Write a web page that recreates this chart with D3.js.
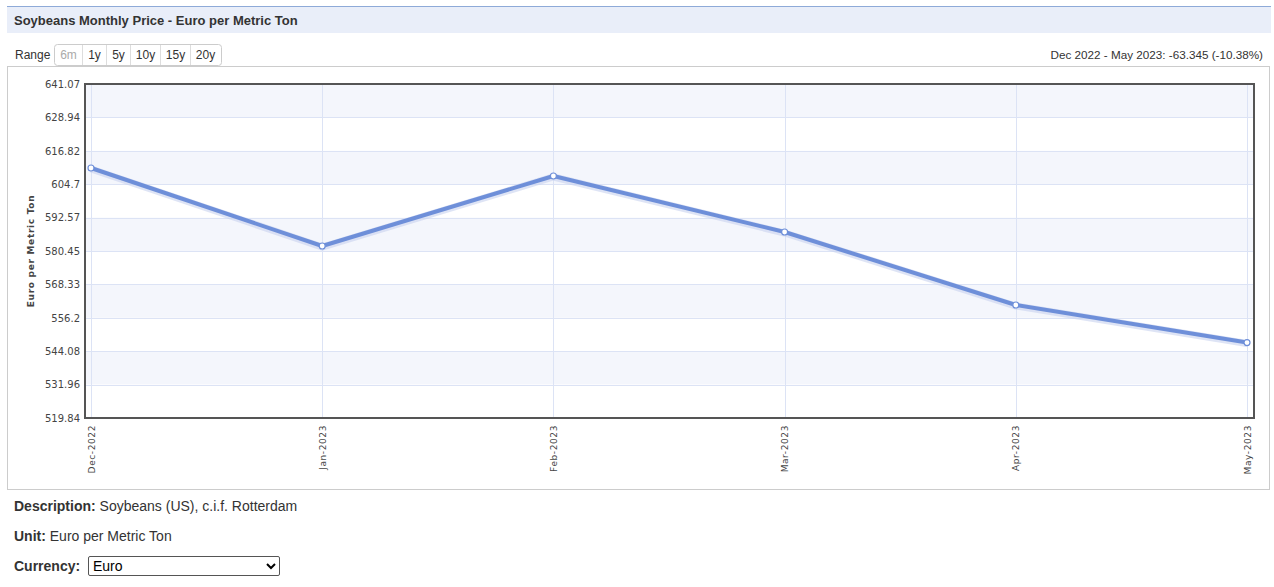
<!DOCTYPE html>
<html><head><meta charset="utf-8">
<script src="https://cdn.jsdelivr.net/npm/d3@7"></script>
<style>
body{margin:0;background:#fff;font-family:"Liberation Sans",Arial,sans-serif;color:#333;}
#wrap{position:relative;width:1274px;height:587px;overflow:hidden;}
.sel{position:absolute;left:88px;top:556px;width:192px;height:20px;font-family:"Liberation Sans",Arial,sans-serif;font-size:14px;border:1px solid #555;border-radius:2px;box-sizing:border-box;background:#fff;}
</style></head>
<body><div id="wrap"><svg id="chart" width="1274" height="587"></svg>
<select class="sel"><option>Euro</option></select></div>
<script>
const months = ["Dec-2022","Jan-2023","Feb-2023","Mar-2023","Apr-2023","May-2023"];
const prices = [610.575, 582.27, 607.68, 587.35, 560.86, 547.23];
const yTicks = [519.84, 531.96, 544.08, 556.2, 568.33, 580.45, 592.57, 604.7, 616.82, 628.94, 641.07];
const ranges = ["6m","1y","5y","10y","15y","20y"];
const title = "Soybeans Monthly Price - Euro per Metric Ton";
const summary = "Dec 2022 - May 2023: -63.345 (-10.38%)";

const svg = d3.select("#chart");
// header
svg.append("rect").attr("x",7).attr("y",6).attr("width",1264).attr("height",27).attr("fill","#e9eef9");
svg.append("line").attr("x1",7).attr("x2",1271).attr("y1",6.5).attr("y2",6.5).attr("stroke","#8eaad8").attr("stroke-width",1);
svg.append("text").attr("x",14).attr("y",25).attr("font-size",13).attr("font-weight","bold").attr("fill","#333").text(title);

// range buttons
svg.append("text").attr("x",15).attr("y",59).attr("font-size",12).attr("fill","#333").text("Range");
const bw = [28,24,24,30,30,30];
let bx = 54;
const bg = svg.append("g");
bg.append("rect").attr("x",54.5).attr("y",44.5).attr("width",d3.sum(bw)+1).attr("height",21).attr("rx",3).attr("fill","#fff").attr("stroke","#ccc");
ranges.forEach((r,i)=>{
  if(i>0) bg.append("line").attr("x1",bx+0.5).attr("x2",bx+0.5).attr("y1",45).attr("y2",65).attr("stroke","#ddd");
  bg.append("text").attr("x",bx+bw[i]/2+0.5).attr("y",59).attr("text-anchor","middle").attr("font-size",12).attr("fill",i===0?"#aaa":"#333").text(r);
  bx += bw[i];
});
svg.append("text").attr("x",1263).attr("y",59).attr("text-anchor","end").attr("font-size",11.7).attr("fill","#333").text(summary);

// container
svg.append("rect").attr("x",7.5).attr("y",66.5).attr("width",1262).attr("height",423).attr("fill","#fff").attr("stroke","#ccc");

const L=85,R=1254,T=84,B=418;
const x = d3.scalePoint().domain(months).range([91,1247]);
const y = d3.scaleLinear().domain([519.84,641.07]).range([B,T]);

// bands
for(let i=0;i<yTicks.length-1;i++){
  const top = yTicks[yTicks.length-1-i], bot = yTicks[yTicks.length-2-i];
  svg.append("rect").attr("x",L).attr("width",R-L).attr("y",y(top)).attr("height",y(bot)-y(top))
    .attr("fill", i%2===0 ? "#f4f6fc" : "#ffffff");
}
// grid
svg.append("g").selectAll("line").data(yTicks).join("line")
  .attr("x1",L).attr("x2",R).attr("y1",d=>Math.round(y(d))+0.5).attr("y2",d=>Math.round(y(d))+0.5)
  .attr("stroke","#dce3f5");
svg.append("g").selectAll("line").data(months).join("line")
  .attr("x1",d=>Math.round(x(d))+0.5).attr("x2",d=>Math.round(x(d))+0.5).attr("y1",T).attr("y2",B)
  .attr("stroke","#dce3f5");

// axes
const yAxis = d3.axisLeft(y).tickValues(yTicks).tickSize(0).tickPadding(5).tickFormat(d=>String(d));
const ya = svg.append("g").attr("transform",`translate(${L},0)`).call(yAxis);
ya.select(".domain").remove();
ya.selectAll("text").attr("font-family","'DejaVu Sans',Verdana,sans-serif").attr("font-size",10).attr("fill","#444");

const xAxis = d3.axisBottom(x).tickSize(0).tickPadding(0);
const xa = svg.append("g").attr("transform",`translate(0,${B})`).call(xAxis);
xa.select(".domain").remove();
xa.selectAll("text").attr("font-family","'DejaVu Sans',Verdana,sans-serif").attr("font-size",9).attr("fill","#444")
  .attr("letter-spacing","0.6px")
  .attr("text-anchor","end").attr("dy",null).attr("y",0)
  .attr("transform","translate(3,7) rotate(-90)");

svg.append("text").attr("transform",`translate(34,251) rotate(-90)`).attr("text-anchor","middle")
  .attr("font-family","'DejaVu Sans',Verdana,sans-serif").attr("font-size",9).attr("font-weight","bold").attr("fill","#444")
  .attr("letter-spacing","0.7px")
  .text("Euro per Metric Ton");

// line
const line = d3.line().x((d,i)=>x(months[i])).y(d=>y(d));
svg.append("path").datum(prices).attr("d",line).attr("fill","none").attr("stroke","#c8d2ee").attr("stroke-width",7).attr("opacity",0.6).attr("transform","translate(0,1)");
svg.append("path").datum(prices).attr("d",line).attr("fill","none").attr("stroke","#6e8fd9").attr("stroke-width",4).attr("stroke-linejoin","round");
svg.append("g").selectAll("circle").data(prices).join("circle")
  .attr("cx",(d,i)=>x(months[i])).attr("cy",d=>y(d)).attr("r",3).attr("fill","#fff").attr("stroke","#6e8fd9").attr("stroke-width",1.2);

// plot border
svg.append("rect").attr("x",L).attr("y",T).attr("width",R-L).attr("height",B-T).attr("fill","none").attr("stroke","#555").attr("stroke-width",2);

// footer texts
const foot = [["Description:"," Soybeans (US), c.i.f. Rotterdam",511],["Unit:"," Euro per Metric Ton",541],["Currency:","",571]];
foot.forEach(f=>{
  const t = svg.append("text").attr("x",14).attr("y",f[2]).attr("font-size",14).attr("fill","#333");
  t.append("tspan").attr("font-weight","bold").text(f[0]);
  t.append("tspan").text(f[1]);
});
</script></body></html>
